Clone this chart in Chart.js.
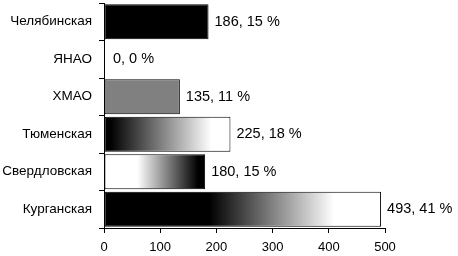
<!DOCTYPE html>
<html>
<head>
<meta charset="utf-8">
<script src="https://cdn.jsdelivr.net/npm/chart.js@4/dist/chart.umd.min.js"></script>
<style>
  html, body { margin: 0; padding: 0; background: #fff; }
  canvas { display: block; }
</style>
</head>
<body>
<canvas id="c" width="458" height="256"></canvas>
<script>
const categories = ['Челябинская', 'ЯНАО', 'ХМАО', 'Тюменская', 'Свердловская', 'Курганская'];
const values = [186, 0, 135, 225, 180, 493];
const percents = [15, 0, 11, 18, 15, 41];
const xTicks = [0, 100, 200, 300, 400, 500];

// styles (separate from data)
const barFills = [
  { solid: '#000000' },
  { solid: '#000000' },
  { solid: '#808080' },
  { stops: [[0, '#000000'], [0.05, '#000000'], [0.85, '#ffffff'], [1, '#ffffff']] },
  { stops: [[0, '#ffffff'], [0.33, '#ffffff'], [0.93, '#000000'], [1, '#000000']] },
  { stops: [[0, '#000000'], [0.38, '#000000'], [0.83, '#ffffff'], [1, '#ffffff']] }
];

const FONT = "'Liberation Sans', Arial, sans-serif";

function fillFor(ctx) {
  const chart = ctx.chart;
  const i = ctx.dataIndex;
  const f = barFills[i];
  if (f.solid) return f.solid;
  const xs = chart.scales.x;
  if (!xs || !chart.chartArea) return '#808080';
  const x0 = xs.getPixelForValue(0);
  const x1 = xs.getPixelForValue(values[i]);
  const g = chart.ctx.createLinearGradient(x0, 0, x1, 0);
  f.stops.forEach(s => g.addColorStop(s[0], s[1]));
  return g;
}

const labelPlugin = {
  id: 'valueLabels',
  afterDatasetsDraw(chart) {
    const ctx = chart.ctx;
    const meta = chart.getDatasetMeta(0);
    ctx.save();
    ctx.font = '14.5px ' + FONT;
    ctx.fillStyle = '#000';
    ctx.textBaseline = 'middle';
    ctx.textAlign = 'left';
    meta.data.forEach((bar, i) => {
      const off = values[i] === 0 ? 9 : 6;
      ctx.fillText(values[i] + ', ' + percents[i] + ' %', bar.x + off, bar.y);
    });
    ctx.restore();
  }
};

new Chart(document.getElementById('c'), {
  type: 'bar',
  data: {
    labels: categories,
    datasets: [{
      data: values,
      backgroundColor: fillFor,
      borderColor: '#000000',
      borderWidth: 1,
      borderSkipped: false,
      barPercentage: 0.93,
      categoryPercentage: 1.0
    }]
  },
  options: {
    indexAxis: 'y',
    responsive: false,
    animation: false,
    devicePixelRatio: 1,
    layout: { padding: { top: 3, right: 73, left: 0, bottom: 0 } },
    plugins: {
      legend: { display: false },
      tooltip: { enabled: false }
    },
    scales: {
      x: {
        min: 0, max: 500,
        afterBuildTicks(scale) { scale.ticks = xTicks.map(v => ({ value: v })); },
        afterFit(scale) { scale.height = 28; scale.paddingLeft = 0; scale.paddingRight = 0; },
        border: { display: true, color: '#000', width: 1 },
        grid: { display: true, drawOnChartArea: false, drawTicks: true, tickLength: 5, color: '#000' },
        ticks: { color: '#000', font: { family: FONT, size: 13 }, padding: 7, maxRotation: 0 }
      },
      y: {
        afterFit(scale) { scale.width = 104; scale.paddingTop = 0; scale.paddingBottom = 0; },
        border: { display: true, color: '#000', width: 1 },
        grid: { display: true, offset: true, drawOnChartArea: false, drawTicks: true, tickLength: 5, color: '#000' },
        ticks: { color: '#000', font: { family: FONT, size: 13.5 }, padding: 7 }
      }
    }
  },
  plugins: [labelPlugin]
});
</script>
</body>
</html>
